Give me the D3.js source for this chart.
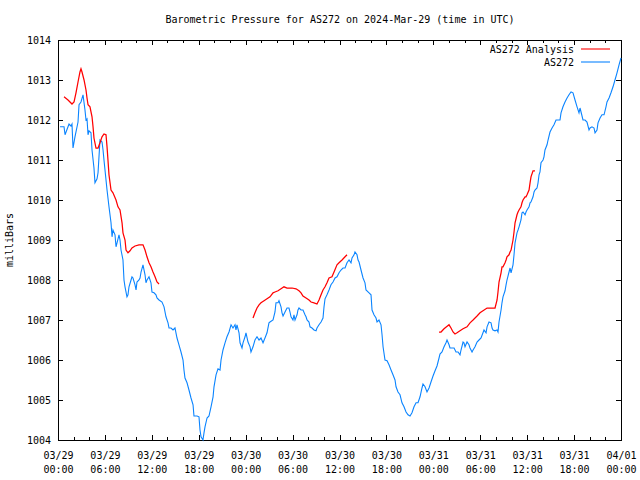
<!DOCTYPE html>
<html>
<head>
<meta charset="utf-8">
<script src="https://cdn.jsdelivr.net/npm/d3@7"></script>
<style>
  html, body { margin: 0; padding: 0; background: #fff; }
  svg text { font-family: "DejaVu Sans Mono", "Liberation Mono", monospace; font-size: 10px; fill: #000; }
</style>
</head>
<body>
<svg id="chart" width="640" height="480"></svg>
<script>
// ---- Data (hours after 2024-03-29 00:00 UTC, pressure in mbar) ----
const titleText = "Barometric Pressure for AS272 on 2024-Mar-29 (time in UTC)";
const yLabelText = "milliBars";
const seriesNames = ["AS272 Analysis", "AS272"];
const yTicks = [1004, 1005, 1006, 1007, 1008, 1009, 1010, 1011, 1012, 1013, 1014];
const majorTickHours = [0, 6, 12, 18, 24, 30, 36, 42, 48, 54, 60, 66, 72];

const as272Hours = [0.26,0.77,0.90,1.41,1.66,1.79,1.92,2.17,2.56,2.69,2.94,3.20,3.45,3.58,3.71,3.84,3.96,4.22,4.35,4.60,4.73,4.99,5.12,5.37,5.63,5.76,5.88,6.14,6.27,6.52,6.78,6.91,7.03,7.29,7.42,7.55,7.80,7.93,8.06,8.31,8.44,8.57,8.82,8.95,9.08,9.34,9.46,9.59,9.85,9.98,10.10,10.36,10.49,10.62,10.87,11.13,11.25,11.38,11.64,11.89,12.02,12.28,12.53,12.66,12.92,13.30,13.56,13.81,14.07,14.20,14.45,14.71,14.96,15.22,15.47,15.73,15.99,16.11,16.24,16.50,16.75,17.01,17.27,17.39,17.78,18.03,18.16,18.29,18.54,18.67,18.80,19.06,19.31,19.57,19.83,19.95,20.21,20.46,20.72,20.85,21.10,21.36,21.61,21.87,22.13,22.38,22.64,22.76,22.89,23.15,23.28,23.53,23.66,23.92,24.04,24.30,24.56,24.68,24.94,25.19,25.45,25.71,25.96,26.22,26.47,26.73,26.98,27.11,27.50,27.75,27.88,28.14,28.26,28.52,28.65,28.78,29.03,29.29,29.54,29.67,29.80,30.05,30.18,30.31,30.57,30.69,30.82,31.08,31.33,31.59,31.72,31.85,32.10,32.23,32.48,32.74,33.00,33.12,33.38,33.64,33.89,34.02,34.15,34.40,34.66,34.91,35.17,35.43,35.68,35.94,36.19,36.45,36.71,36.96,37.22,37.47,37.60,37.86,37.98,38.24,38.37,38.50,38.75,39.01,39.26,39.39,39.78,40.03,40.16,40.41,40.67,40.80,41.05,41.31,41.44,41.57,41.82,42.08,42.33,42.59,42.84,43.10,43.23,43.48,43.74,43.99,44.25,44.51,44.76,45.02,45.27,45.53,45.79,46.04,46.30,46.55,46.68,46.94,47.19,47.45,47.70,47.96,48.22,48.47,48.73,48.85,49.11,49.37,49.62,49.75,50.01,50.13,50.65,50.90,51.16,51.41,51.54,51.80,51.92,52.05,52.31,52.56,52.69,52.95,53.08,53.33,53.59,53.84,54.10,54.35,54.48,54.74,54.87,55.12,55.38,55.51,55.63,55.89,56.15,56.27,56.40,56.66,56.78,56.91,57.17,57.30,57.42,57.68,57.81,57.94,58.19,58.32,58.45,58.70,58.83,58.96,59.21,59.34,59.47,59.73,59.85,59.98,60.24,60.37,60.49,60.75,60.88,61.00,61.26,61.39,61.52,61.64,61.77,62.03,62.15,62.28,62.54,62.67,62.92,63.18,63.43,63.69,64.20,64.33,64.58,64.84,65.10,65.35,65.61,65.86,66.12,66.38,66.63,66.76,66.89,67.14,67.40,67.65,67.91,68.04,68.29,68.55,68.68,68.93,69.06,69.32,69.57,69.83,70.08,70.21,70.47,70.72,70.98,71.23,71.49,71.75,72.00];
const as272Pressure = [1011.83,1011.83,1011.63,1011.90,1011.85,1011.90,1011.30,1011.58,1011.95,1012.38,1012.45,1012.63,1012.25,1012.00,1012.03,1011.63,1011.73,1011.68,1011.25,1010.80,1010.43,1010.53,1010.68,1011.50,1011.45,1011.25,1011.00,1010.50,1010.25,1009.83,1009.43,1009.08,1009.25,1009.13,1008.83,1008.93,1009.13,1009.00,1008.75,1008.50,1008.00,1007.83,1007.58,1007.63,1007.83,1008.00,1008.08,1008.05,1007.88,1007.75,1007.95,1008.00,1008.05,1008.20,1008.38,1008.13,1007.93,1008.00,1008.08,1007.93,1007.70,1007.68,1007.63,1007.55,1007.50,1007.45,1007.33,1007.08,1006.93,1006.80,1006.80,1006.75,1006.80,1006.55,1006.38,1006.20,1006.00,1005.75,1005.55,1005.43,1005.25,1005.05,1004.88,1004.60,1004.60,1004.58,1004.25,1004.08,1004.00,1004.18,1004.33,1004.55,1004.60,1004.83,1005.08,1005.33,1005.63,1005.78,1005.75,1006.00,1006.25,1006.43,1006.58,1006.70,1006.88,1006.80,1006.88,1006.75,1006.88,1006.68,1006.43,1006.30,1006.43,1006.58,1006.68,1006.45,1006.33,1006.20,1006.33,1006.50,1006.58,1006.50,1006.55,1006.43,1006.55,1006.68,1006.93,1006.95,1007.00,1007.20,1007.43,1007.43,1007.48,1007.33,1007.18,1007.10,1007.20,1007.30,1007.30,1007.20,1007.08,1007.00,1007.13,1007.00,1007.13,1007.25,1007.30,1007.25,1007.25,1007.13,1007.08,1007.00,1006.95,1006.83,1006.80,1006.75,1006.73,1006.80,1006.88,1006.95,1007.05,1007.33,1007.53,1007.63,1007.75,1007.88,1007.95,1008.05,1008.08,1008.18,1008.25,1008.30,1008.30,1008.43,1008.50,1008.43,1008.55,1008.63,1008.70,1008.63,1008.50,1008.45,1008.25,1008.05,1007.93,1007.75,1007.68,1007.63,1007.25,1007.13,1007.05,1006.95,1007.00,1006.88,1006.63,1006.33,1006.00,1005.98,1005.88,1005.75,1005.63,1005.50,1005.33,1005.20,1005.13,1004.93,1004.83,1004.70,1004.63,1004.60,1004.68,1004.83,1004.93,1004.93,1005.08,1005.30,1005.40,1005.33,1005.20,1005.30,1005.45,1005.60,1005.73,1005.85,1006.05,1006.15,1006.20,1006.33,1006.43,1006.50,1006.38,1006.30,1006.30,1006.20,1006.20,1006.13,1006.25,1006.45,1006.43,1006.33,1006.45,1006.38,1006.30,1006.20,1006.25,1006.33,1006.45,1006.50,1006.55,1006.68,1006.75,1006.68,1006.83,1006.95,1006.93,1006.80,1006.75,1006.73,1006.75,1006.70,1006.95,1007.25,1007.43,1007.58,1007.73,1007.88,1008.00,1008.20,1008.30,1008.18,1008.38,1008.63,1008.93,1009.18,1009.25,1009.33,1009.50,1009.68,1009.70,1009.63,1009.70,1009.75,1009.83,1009.93,1009.95,1010.08,1010.20,1010.25,1010.30,1010.43,1010.63,1010.70,1010.93,1011.00,1011.08,1011.25,1011.38,1011.50,1011.70,1011.80,1011.88,1012.00,1012.00,1012.18,1012.33,1012.45,1012.55,1012.63,1012.70,1012.68,1012.50,1012.33,1012.18,1012.30,1012.20,1012.00,1012.00,1011.95,1011.75,1011.80,1011.83,1011.80,1011.68,1011.75,1011.93,1012.05,1012.13,1012.13,1012.33,1012.45,1012.55,1012.68,1012.83,1013.00,1013.18,1013.38,1013.55];

// Analysis series: null marks a gap between segments
const analysisHours = [0.77,1.28,1.79,2.05,2.30,2.56,2.81,2.94,3.07,3.33,3.58,3.71,3.84,4.09,4.35,4.48,4.60,4.86,5.12,5.37,5.63,5.88,6.14,6.27,6.39,6.52,6.78,7.03,7.42,7.67,7.93,8.19,8.31,8.57,8.70,8.95,9.21,9.46,9.85,10.36,10.87,11.13,11.38,11.64,11.89,12.15,12.41,12.66,12.92,
  18.0,
  24.94,25.19,25.45,25.71,25.96,26.35,26.73,27.11,27.50,27.75,28.14,28.52,28.90,29.29,29.93,30.44,30.82,31.08,31.33,31.72,32.10,32.36,32.74,33.12,33.38,33.64,33.89,34.15,34.40,34.66,35.04,35.30,35.68,35.94,36.32,36.71,36.96,
  42.0,
  48.73,48.98,49.37,50.01,50.26,50.52,50.77,51.03,51.41,51.80,52.31,52.69,53.08,53.59,53.97,54.35,54.87,55.89,56.15,56.27,56.40,56.66,56.78,56.91,57.17,57.30,57.42,57.68,57.81,57.94,58.19,58.32,58.45,58.70,58.83,58.96,59.21,59.34,59.47,59.73,59.85,59.98,60.24,60.37,60.49,60.75,61.00];
const analysisPressure = [1012.58,1012.50,1012.40,1012.45,1012.68,1012.95,1013.20,1013.28,1013.20,1013.00,1012.75,1012.55,1012.38,1012.33,1012.08,1011.83,1011.55,1011.30,1011.30,1011.43,1011.58,1011.65,1011.63,1011.33,1011.00,1010.63,1010.25,1010.18,1010.00,1009.83,1009.75,1009.43,1009.18,1009.00,1008.75,1008.68,1008.73,1008.80,1008.85,1008.88,1008.88,1008.75,1008.58,1008.43,1008.33,1008.20,1008.08,1007.95,1007.90,
  null,
  1007.05,1007.18,1007.30,1007.38,1007.43,1007.48,1007.53,1007.58,1007.68,1007.70,1007.73,1007.78,1007.83,1007.80,1007.80,1007.78,1007.73,1007.68,1007.60,1007.55,1007.50,1007.45,1007.43,1007.40,1007.50,1007.63,1007.75,1007.83,1007.93,1008.05,1008.08,1008.20,1008.38,1008.43,1008.50,1008.58,1008.63,
  null,
  1006.70,1006.70,1006.78,1006.88,1006.80,1006.70,1006.65,1006.68,1006.73,1006.78,1006.83,1006.93,1007.00,1007.10,1007.18,1007.23,1007.30,1007.30,1007.50,1007.70,1007.95,1008.18,1008.33,1008.33,1008.43,1008.50,1008.58,1008.63,1008.70,1008.75,1009.00,1009.20,1009.43,1009.63,1009.70,1009.75,1009.83,1009.93,1010.00,1010.08,1010.08,1010.13,1010.25,1010.43,1010.58,1010.73,1010.73];

// ---- Chart ----
const startMs = Date.UTC(2024, 2, 29);
const toDate = h => new Date(startMs + h * 3600e3);

const margin = {left: 58, top: 40, right: 19, bottom: 40};
const W = 640, H = 480;
const x0 = margin.left, x1 = W - margin.right, y0 = margin.top, y1 = H - margin.bottom;

const x = d3.scaleUtc().domain([toDate(0), toDate(72)]).range([x0, x1]);
const y = d3.scaleLinear().domain([1004, 1014]).range([y1, y0]);

const svg = d3.select("#chart");
svg.append("rect").attr("width", W).attr("height", H).attr("fill", "#fff");

const minorTicks = d3.range(0, 73, 2).filter(h => h % 6 !== 0).map(toDate);
const majorTicks = majorTickHours.map(toDate);
const fmtDate = d3.utcFormat("%m/%d"), fmtTime = d3.utcFormat("%H:%M");

function styleAxis(g) {
  g.select(".domain").remove();
  g.selectAll(".tick line").attr("stroke", "#000").attr("shape-rendering", "crispEdges");
}

// bottom major with labels
const gb = svg.append("g").attr("transform", `translate(0,${y1})`)
  .call(d3.axisBottom(x).tickValues(majorTicks).tickSize(-5).tickPadding(9).tickFormat(""))
  .call(styleAxis);
gb.selectAll(".tick text").each(function(d) {
  const t = d3.select(this).attr("dy", null).attr("y", 0);
  t.append("tspan").attr("x", 0).attr("y", 19).text(fmtDate(d));
  t.append("tspan").attr("x", 0).attr("y", 33).text(fmtTime(d));
});
svg.append("g").attr("transform", `translate(0,${y1})`)
  .call(d3.axisBottom(x).tickValues(minorTicks).tickSize(-3).tickFormat(""))
  .call(styleAxis);
// top mirrored
svg.append("g").attr("transform", `translate(0,${y0})`)
  .call(d3.axisTop(x).tickValues(majorTicks).tickSize(-5).tickFormat(""))
  .call(styleAxis);
svg.append("g").attr("transform", `translate(0,${y0})`)
  .call(d3.axisTop(x).tickValues(minorTicks).tickSize(-3).tickFormat(""))
  .call(styleAxis);
// left with labels
svg.append("g").attr("transform", `translate(${x0},0)`)
  .call(d3.axisLeft(y).tickValues(yTicks).tickSize(-5).tickPadding(7).tickFormat(d3.format("d")))
  .call(styleAxis);
// right mirrored
svg.append("g").attr("transform", `translate(${x1},0)`)
  .call(d3.axisRight(y).tickValues(yTicks).tickSize(-5).tickFormat(""))
  .call(styleAxis);

svg.selectAll(".tick text").style("font-family", '"DejaVu Sans Mono", monospace').style("font-size", "10px");

// border
svg.append("rect").attr("x", x0 + 0.5).attr("y", y0 + 0.5)
  .attr("width", x1 - x0).attr("height", y1 - y0)
  .attr("fill", "none").attr("stroke", "#000").attr("stroke-width", 1);

// lines
const blueData = as272Hours.map((h, i) => [toDate(h), as272Pressure[i]]);
const redData = analysisHours.map((h, i) => [toDate(h), analysisPressure[i]]);
const line = d3.line().defined(d => d[1] !== null).x(d => x(d[0])).y(d => y(d[1]));

const plot = svg.append("g");
plot.append("path").datum(blueData).attr("d", line)
  .attr("fill", "none").attr("stroke", "#0a84ff").attr("stroke-width", 1.1);
plot.append("path").datum(redData).attr("d", line)
  .attr("fill", "none").attr("stroke", "#ff0000").attr("stroke-width", 1.25);

// title
svg.append("text").attr("x", 340).attr("y", 23).attr("text-anchor", "middle").text(titleText);
// y label
svg.append("text").attr("transform", "translate(13,240) rotate(-90)")
  .attr("text-anchor", "middle").text(yLabelText);

// legend
const legendColors = ["#ff0000", "#0a84ff"];
seriesNames.forEach((name, i) => {
  const ly = 49 + i * 13;
  svg.append("text").attr("x", 574).attr("y", ly + 4).attr("text-anchor", "end").text(name);
  svg.append("line").attr("x1", 581).attr("x2", 610).attr("y1", ly).attr("y2", ly)
    .attr("stroke", legendColors[i]).attr("stroke-width", 1.1);
});
</script>
</body>
</html>
